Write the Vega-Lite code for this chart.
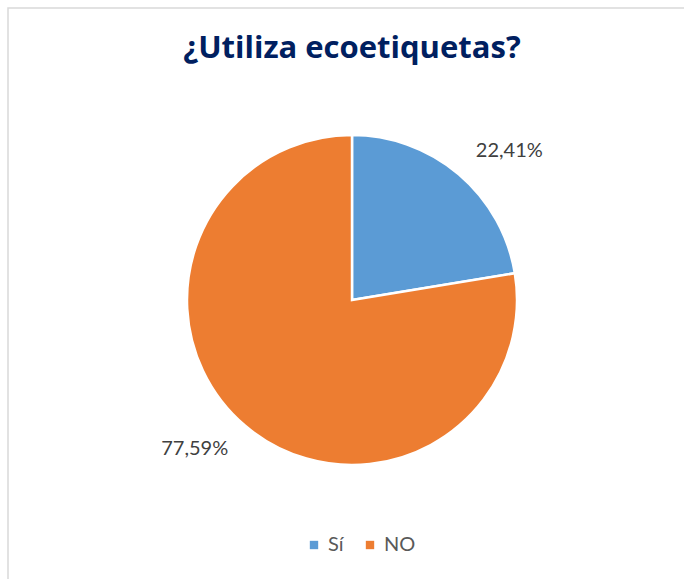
{
  "$schema": "https://vega.github.io/schema/vega-lite/v6.json",
  "autosize": "none",
  "width": 688,
  "height": 584,
  "padding": {"left": 8, "top": 8, "right": 0, "bottom": 0},
  "background": "white",
  "view": {"stroke": "#D9D9D9", "strokeWidth": 1.5, "fill": "white"},
  "config": {
    "locale": {"number": {"decimal": ",", "thousands": ".", "grouping": [3], "currency": ["", " €"]}}
  },
  "title": {
    "text": "¿Utiliza ecoetiquetas?",
    "font": "Open Sans",
    "fontSize": 31,
    "fontWeight": "bold",
    "color": "#002060",
    "anchor": "middle",
    "offset": -57
  },
  "data": {"values": [
    {"categoria": "Sí", "valor": 0.2241},
    {"categoria": "NO", "valor": 0.7759}
  ]},
  "encoding": {
    "theta": {"field": "valor", "type": "quantitative", "stack": true},
    "order": {"field": "valor", "sort": "ascending"},
    "color": {
      "field": "categoria",
      "type": "nominal",
      "scale": {"domain": ["Sí", "NO"], "range": ["#5B9BD5", "#ED7D31"]},
      "legend": {
        "title": null,
        "orient": "none",
        "direction": "horizontal",
        "legendX": 296,
        "legendY": 527,
        "symbolType": "square",
        "symbolSize": 70,
        "symbolStrokeWidth": 0,
        "labelFont": "Lato",
        "labelFontSize": 20,
        "labelColor": "#595959",
        "columnPadding": 16,
        "labelOffset": 4
      }
    }
  },
  "layer": [
    {"mark": {"type": "arc", "outerRadius": 165, "stroke": "white", "strokeWidth": 2.5}},
    {
      "mark": {"type": "text", "radius": 217, "thetaOffset": 0.107, "font": "Lato", "fontSize": 20, "color": "#404040"},
      "encoding": {
        "text": {"field": "valor", "type": "quantitative", "format": ".2%"},
        "color": {"value": "#404040"}
      }
    }
  ]
}
